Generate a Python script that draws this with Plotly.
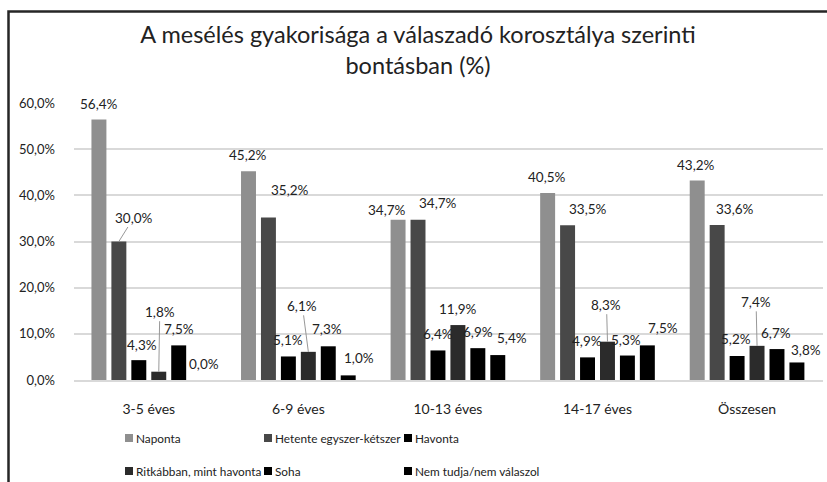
import plotly.graph_objects as go

# ---------------- data ----------------
categories = ["3-5 éves", "6-9 éves", "10-13 éves", "14-17 éves", "Összesen"]
series_names = ["Naponta", "Hetente egyszer-kétszer", "Havonta",
                "Ritkábban, mint havonta", "Soha", "Nem tudja/nem válaszol"]
naponta = [56.4, 45.2, 34.7, 40.5, 43.2]
hetente = [30.0, 35.2, 34.7, 33.5, 33.6]
havonta = [4.3, 5.1, 6.4, 4.9, 5.2]
ritkabban = [1.8, 6.1, 11.9, 8.3, 7.4]
soha = [7.5, 7.3, 6.9, 5.3, 6.7]
nem_tudja = [0.0, 1.0, 5.4, 7.5, 3.8]
y_ticks = [0, 10, 20, 30, 40, 50, 60]
title_text = "A mesélés gyakorisága a válaszadó korosztálya szerinti<br>bontásban (%)"

series_values = [naponta, hetente, havonta, ritkabban, soha, nem_tudja]

# ---------------- style ----------------
colors = ["#8f8f8f", "#484848", "#000000", "#2b2b2b", "#000000", "#000000"]
# label nudges (dx, dy in px from bar top centre, leader line?)
label_nudge = [
    [(0, -16, 0), (0, -16, 0), (-11, -10, 0), (-1, -16, 0), (-1, -16, 0)],
    [(15, -24, 1), (22, -27, 0), (20, -17, 0), (20, -16, 0), (18, -16, 0)],
    [(3, -15, 0), (0, -16, 0), (0, -16, 0), (-1, -16, 0), (-1, -17, 0)],
    [(1, -60, 1), (-6, -46, 1), (0, -16, 0), (-1, -37, 1), (-1, -44, 1)],
    [(0, -16, 0), (-1, -17, 0), (0, -16, 0), (-1, -16, 0), (-1, -16, 0)],
    [(5, -16, 0), (11, -17, 0), (14, -17, 0), (16, -17, 0), (9, -12, 0)],
]
# manual legend grid (pixel positions): column marker-left x, row centre y
legend_cols = [125, 264, 404]
legend_rows = [438, 471]

W, H = 827, 482
ML, MR, MT, MB = 74, 4, 103, 102
BARGAP, BARGROUPGAP = 0.2, 0.25
FONT = "Lato, 'Open Sans', sans-serif"
TXT = "#222222"

plot_w = W - ML - MR
plot_h = H - MT - MB
cat_px = plot_w / len(categories)
slot_px = cat_px * (1 - BARGAP) / len(series_names)


def px_x(px):
    return (px - ML) / plot_w


def px_y(py):
    return (H - MB - py) / plot_h


def fmt(v):
    return f"{v:.1f}%".replace(".", ",")


fig = go.Figure()
for i, (name, vals) in enumerate(zip(series_names, series_values)):
    fig.add_trace(go.Bar(
        x=categories, y=vals, name=name,
        marker=dict(color=colors[i], line=dict(width=0)),
        hoverinfo="skip", showlegend=False,
    ))

annotations = []
for i, vals in enumerate(series_values):
    off = (i - (len(series_names) - 1) / 2) * slot_px
    for j, v in enumerate(vals):
        dx, dy, lead = label_nudge[i][j]
        annotations.append(dict(
            x=categories[j], y=v, xref="x", yref="y",
            xshift=off, text=fmt(v),
            showarrow=True, arrowhead=0, arrowwidth=0.9, standoff=0,
            arrowcolor="#8c8c8c" if lead else "rgba(0,0,0,0)",
            ax=dx, ay=dy,
            font=dict(family=FONT, size=13.5, color=TXT),
        ))

# chart-area frame (left and top edges)
frame_path = (f"M {px_x(8.5)},{px_y(490)} L {px_x(8.5)},{px_y(11.5)} "
              f"L {px_x(832)},{px_y(11.5)}")
shapes = [
    dict(type="path", xref="paper", yref="paper", path=frame_path,
         line=dict(color="#262626", width=2.5), layer="above"),
]

# legend: 3 columns x 2 rows, row-major like the original
for k, name in enumerate(series_names):
    cx = legend_cols[k % 3]
    cy = legend_rows[k // 3]
    shapes.append(dict(
        type="rect", xref="paper", yref="paper",
        xsizemode="pixel", ysizemode="pixel",
        xanchor=px_x(cx), yanchor=px_y(cy),
        x0=0, x1=8, y0=-4, y1=4,
        fillcolor=colors[k], line=dict(width=0),
    ))
    annotations.append(dict(
        x=px_x(cx + 9), y=px_y(cy), xref="paper", yref="paper",
        xanchor="left", yanchor="middle", showarrow=False, text=name,
        font=dict(family=FONT, size=11.8, color=TXT),
    ))

fig.update_layout(
    width=W, height=H,
    margin=dict(l=ML, r=MR, t=MT, b=MB),
    paper_bgcolor="white", plot_bgcolor="white",
    separators=",.",
    barmode="group", bargap=BARGAP, bargroupgap=BARGROUPGAP,
    font=dict(family=FONT, size=14, color=TXT),
    title=dict(text=title_text, x=418 / W, xanchor="center",
               y=1 - 43 / H, yanchor="middle", yref="container",
               font=dict(family=FONT, size=23.5, color=TXT)),
    xaxis=dict(showline=True, linecolor="#d9d9d9", linewidth=1.5, ticks="",
               tickfont=dict(family=FONT, size=14, color=TXT),
               ticklabelstandoff=15, fixedrange=True),
    yaxis=dict(range=[0, 60], tickvals=y_ticks, ticktext=[fmt(t) for t in y_ticks],
               showgrid=True, gridcolor="#d9d9d9", gridwidth=1.5, zeroline=False,
               showline=False, ticks="", ticklabelstandoff=18,
               tickfont=dict(family=FONT, size=13, color=TXT), fixedrange=True),
    annotations=annotations,
    shapes=shapes,
    showlegend=False,
)

fig.write_html("out.html",
               config={"displayModeBar": False},
               post_script="document.body.style.margin='0';"
                           "document.body.style.overflow='hidden';")
